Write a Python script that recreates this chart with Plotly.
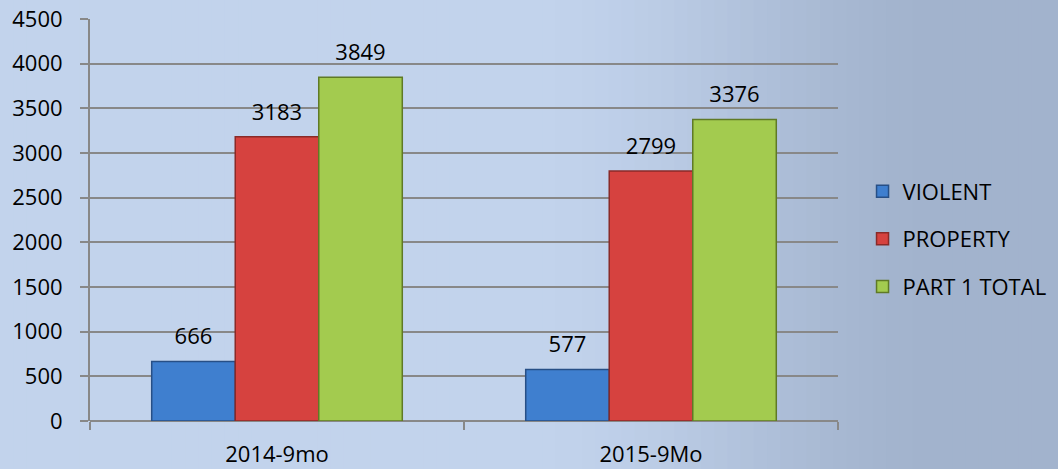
import plotly.graph_objects as go

categories = ["2014-9mo", "2015-9Mo"]
violent = [666, 577]
property_ = [3183, 2799]
part1_total = [3849, 3376]
series_names = ["VIOLENT", "PROPERTY", "PART 1 TOTAL"]
y_ticks = [0, 500, 1000, 1500, 2000, 2500, 3000, 3500, 4000, 4500]

colors = ["#3f7fcf", "#d6423f", "#a3cb4f"]
edge = ["#274f86", "#8a2a28", "#5f7a26"]
font_family = "Open Sans, Noto Sans, sans-serif"
label_pad = 90  # invisible spacer (in axis units) between bar top and its value label

fig = go.Figure()
for i, (name, vals) in enumerate(zip(series_names, [violent, property_, part1_total])):
    fig.add_trace(go.Bar(
        x=categories, y=vals, name=name, offsetgroup=str(i),
        marker=dict(color=colors[i], line=dict(color=edge[i], width=1.5)),
        cliponaxis=False, legendgroup=name, hoverinfo="x+y+name",
    ))
    fig.add_trace(go.Bar(
        x=categories, y=[label_pad] * len(vals), base=vals, offsetgroup=str(i),
        marker=dict(color="rgba(0,0,0,0)", line=dict(width=0)),
        text=[str(v) for v in vals], textposition="outside",
        textfont=dict(size=22, color="#000000", family=font_family),
        cliponaxis=False, showlegend=False, hoverinfo="skip",
    ))

# background gradient strips
n = 80
left = (194, 211, 236)
right = (162, 179, 205)
for k in range(n):
    t = k / (n - 1)
    t2 = min(1.0, max(0.0, (t - 0.5) / 0.4))
    t2 = t2 * t2 * (3 - 2 * t2)
    c = tuple(int(round(left[j] + (right[j] - left[j]) * t2)) for j in range(3))
    fig.add_shape(type="rect", xref="paper", yref="paper",
                  x0=-90/748 + k * (1058/748) / n, x1=-90/748 + (k + 1) * (1058/748) / n + 0.002,
                  y0=-48/402, y1=1 + 19/402,
                  fillcolor="rgb(%d,%d,%d)" % c, line=dict(width=0), layer="below")

fig.update_layout(
    width=1058, height=469,
    margin=dict(l=90, r=220, t=19, b=48, autoexpand=False),
    paper_bgcolor="#c2d3ec",
    plot_bgcolor="rgba(0,0,0,0)",
    barmode="group", bargap=0.33, bargroupgap=0,
    font=dict(family=font_family, size=22, color="#000000"),
    showlegend=True,
    uniformtext=dict(minsize=22),
    legend=dict(x=1.0328, y=0.453, xanchor="left", yanchor="middle",
                traceorder="grouped", tracegroupgap=16,
                font=dict(size=22, family=font_family), bgcolor="rgba(0,0,0,0)",
                itemwidth=30),
    xaxis=dict(showline=False, ticks="outside", tickson="boundaries", ticklen=8,
               tickcolor="#888888", tickwidth=2, showgrid=False, automargin=False,
               tickfont=dict(size=22), ticklabelstandoff=18),
    yaxis=dict(range=[0, 4500], tickvals=y_ticks, showgrid=True, gridcolor="#888888",
               gridwidth=2, zeroline=True, zerolinecolor="#888888", zerolinewidth=2,
               showline=True, linecolor="#888888", linewidth=2, automargin=False,
               ticks="outside", ticklen=8, tickcolor="#888888", tickwidth=2,
               tickfont=dict(size=22), ticklabelstandoff=13),
)

fig.write_html("out.html", config={"displayModeBar": False},
               post_script="document.body.style.margin='0';document.body.style.overflow='hidden';")
